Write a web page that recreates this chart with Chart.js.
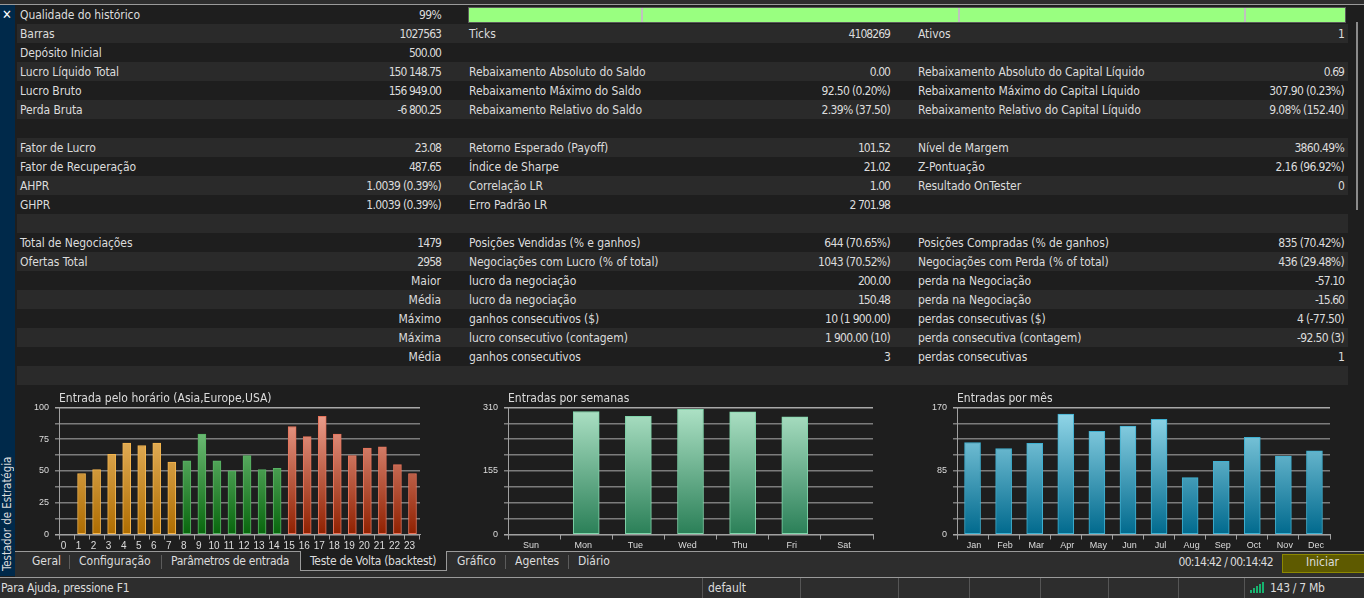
<!DOCTYPE html>
<html>
<head>
<meta charset="utf-8">
<script src="https://cdn.jsdelivr.net/npm/chart.js@4"></script>
<style>
html,body{margin:0;padding:0;width:1364px;height:598px;overflow:hidden;background:#1e1e1e;}
body{position:relative;font:12px "DejaVu Sans Condensed","DejaVu Sans",sans-serif;color:#dcdcdc;}
.abs{position:absolute;}
.t{position:absolute;white-space:nowrap;line-height:19px;height:19px;}
canvas{position:absolute;}
</style>
</head>
<body>
<div id="ui"></div>
<canvas id="hours" width="420" height="166" style="left:17px;top:385px;width:420px;height:166px"></canvas>
<canvas id="days" width="420" height="166" style="left:466px;top:385px;width:420px;height:166px"></canvas>
<canvas id="months" width="420" height="166" style="left:915px;top:385px;width:420px;height:166px"></canvas>
<script>
const hours = ['0','1','2','3','4','5','6','7','8','9','10','11','12','13','14','15','16','17','18','19','20','21','22','23'];
const hourEntries = [0,48,51,63,72,70,72,57,58,79,58,50,62,51,52,85,77,93,79,62,68,69,55,48];
const days = ['Sun','Mon','Tue','Wed','Thu','Fri','Sat'];
const dayEntries = [0,300,288,305,299,287,0];
const months = ['Jan','Feb','Mar','Apr','May','Jun','Jul','Aug','Sep','Oct','Nov','Dec'];
const monthEntries = [123,115,122,161,138,145,154,76,98,130,105,112];

const col1Labels = ['Qualidade do histórico','Barras','Depósito Inicial','Lucro Líquido Total','Lucro Bruto','Perda Bruta','','Fator de Lucro','Fator de Recuperação','AHPR','GHPR','','Total de Negociações','Ofertas Total','','','','',''];
const col1Values = ['99%','1027563','500.00','150 148.75','156 949.00','-6 800.25','','23.08','487.65','1.0039 (0.39%)','1.0039 (0.39%)','','1479','2958','Maior','Média','Máximo','Máxima','Média'];
const col2Labels = ['','Ticks','','Rebaixamento Absoluto do Saldo','Rebaixamento Máximo do Saldo','Rebaixamento Relativo do Saldo','','Retorno Esperado (Payoff)','Índice de Sharpe','Correlação LR','Erro Padrão LR','','Posições Vendidas (% e ganhos)','Negociações com Lucro (% of total)','lucro da negociação','lucro da negociação','ganhos consecutivos ($)','lucro consecutivo (contagem)','ganhos consecutivos'];
const col2Values = ['','4108269','','0.00','92.50 (0.20%)','2.39% (37.50)','','101.52','21.02','1.00','2 701.98','','644 (70.65%)','1043 (70.52%)','200.00','150.48','10 (1 900.00)','1 900.00 (10)','3'];
const col3Labels = ['','Ativos','','Rebaixamento Absoluto do Capital Líquido','Rebaixamento Máximo do Capital Líquido','Rebaixamento Relativo do Capital Líquido','','Nível de Margem','Z-Pontuação','Resultado OnTester','','','Posições Compradas (% de ganhos)','Negociações com Perda (% of total)','perda na Negociação','perda na Negociação','perdas consecutivas ($)','perda consecutiva (contagem)','perdas consecutivas'];
const col3Values = ['','1','','0.69','307.90 (0.23%)','9.08% (152.40)','','3860.49%','2.16 (96.92%)','0','','','835 (70.42%)','436 (29.48%)','-57.10','-15.60','4 (-77.50)','-92.50 (3)','1'];

const tabs = [['Geral',32],['Configuração',79],['Parâmetros de entrada',171],['Teste de Volta (backtest)',310],['Gráfico',457],['Agentes',515],['Diário',578]];
const tabDividers = [69,161,505,568];
const statusDividers = [702,800,898,969,1040,1108,1178,1244];

const ui = document.getElementById('ui');
function box(x,y,w,h,bg,extra){
  const d = document.createElement('div');
  d.className = 'abs';
  d.style.cssText = `left:${x}px;top:${y}px;width:${w}px;height:${h}px;background:${bg};${extra||''}`;
  ui.appendChild(d);
  return d;
}
function text(s,x,y,right,spacing){
  const d = document.createElement('div');
  d.className = 't';
  d.textContent = s;
  if(right) d.style.right = (1364-x)+'px'; else d.style.left = x+'px';
  d.style.top = y+'px';
  if(spacing) d.style.letterSpacing = spacing+'px';
  ui.appendChild(d);
  return d;
}
// the digits in the terminal font are narrower than in this one
function value(s,x,y){
  let sp = 0;
  if(/[0-9]/.test(s)) sp = /[(%]/.test(s) ? -0.66 : -0.95;
  text(s,x,y,true,sp);
}

// header, side strip
box(0,0,1364,4,'#2d2d2d');
box(0,4,1364,1,'#9a9a9a');
box(0,5,15,571,'#00294a');
// stat rows
for(let i=0;i<20;i++){
  box(17,5+19*i,1331,19,i%2 ? '#2a2a2a' : '#1e1e1e');
}
for(let i=0;i<19;i++){
  const y = 5.5+19*i;
  if(col1Labels[i]) text(col1Labels[i],20,y,false,-0.07);
  if(col1Values[i]) value(col1Values[i],441,y);
  if(col2Labels[i]) text(col2Labels[i],469,y,false,-0.07);
  if(col2Values[i]) value(col2Values[i],890,y);
  if(col3Labels[i]) text(col3Labels[i],918,y,false,-0.07);
  if(col3Values[i]) value(col3Values[i],1344,y);
}
// quality bar
box(468,7,876,14,'#99ff80','border:1px solid #5a5a5a;');
[641,958,1244].forEach(x=>box(x,8,2,14,'#c0c0c0'));
// scrollbar
box(1356,22,2,188,'#8a8a8a');
// close mark
const cl = text('✕',2,5);cl.style.fontSize='13px';cl.style.color='#fff';cl.style.fontWeight='bold';
// vertical caption
const vt = document.createElement('div');
vt.className='abs';
vt.textContent='Testador de Estratégia';
vt.style.cssText='left:0;top:456px;height:115px;width:15px;line-height:15px;font-size:11.5px;letter-spacing:-0.08px;writing-mode:vertical-rl;transform:rotate(180deg);white-space:nowrap;color:#dcdcdc;';
ui.appendChild(vt);

// tab bar
box(15,551,1349,26,'#2d2d2d');
box(15,551,1349,1,'#9a9a9a');
box(300,551,145,19,'#1e1e1e','border-left:1px solid #9a9a9a;border-right:1px solid #9a9a9a;border-bottom:1px solid #9a9a9a;');
tabDividers.forEach(x=>box(x,555,1,14,'#5c5c5c'));
tabs.forEach((t,i)=>text(t[0],t[1],551.5,false,(i===2||i===3)?-0.28:0));
text('00:14:42 / 00:14:42',1273,553,true,-0.68);
box(1282,554,81,17,'#5e5a00','border:1px solid #8c8800;');
text('Iniciar',1306,553);
// status bar
box(0,577,1364,1,'#9a9a9a');
box(0,578,1364,20,'#2d2d2d');
statusDividers.forEach(x=>box(x,578,1,20,'#555'));
text('Para Ajuda, pressione F1',1,578.5,false,-0.2);
text('default',708,578.5);
text('143 / 7 Mb',1270,578.5,false,-0.3);
[3,5,7,9,11].forEach((h,i)=>box(1250+i*3,593-h,2,h,'#17b26f'));

// charts
const tickFont = {family:'"Liberation Sans",sans-serif',size:9};
const titleFont = {family:'"DejaVu Sans Condensed","DejaVu Sans",sans-serif',size:12,weight:'normal'};
function barFill(top,bottom){
  return ctx => {
    const a = ctx.chart.chartArea;
    if(!a) return bottom;
    const g = ctx.chart.ctx.createLinearGradient(0,a.top,0,a.bottom);
    g.addColorStop(0,top);
    g.addColorStop(1,bottom);
    return g;
  };
}
function drawBars(id,title,labels,values,maxY,step,labelEvery,fill,edge,thick,labelOffset,axisFont,padRight){
  new Chart(document.getElementById(id).getContext('2d'),{
    type:'bar',
    data:{labels:labels,datasets:[{data:values,backgroundColor:fill,borderColor:edge,borderWidth:1,borderSkipped:false,barThickness:thick}]},
    options:{
      responsive:false,
      animation:false,
      layout:{padding:{right:padRight,bottom:0}},
      plugins:{
        legend:{display:false},
        tooltip:{enabled:false},
        title:{display:true,text:title,align:'start',fullSize:false,color:'#dcdcdc',font:titleFont,padding:{top:7,bottom:1}}
      },
      scales:{
        x:{
          offset:true,
          border:{color:'#a0a0a0'},
          grid:{drawOnChartArea:false,drawTicks:true,tickLength:5,tickColor:'#a0a0a0',offset:true},
          ticks:{color:'#dcdcdc',font:axisFont,maxRotation:0,autoSkip:false,padding:1,labelOffset:labelOffset},
          afterFit:s=>{s.height=16.5;}
        },
        y:{
          min:0,max:maxY,
          border:{color:'#a0a0a0'},
          grid:{lineWidth:1.5,color:c=>(c.index===0||c.tick.value===maxY)?'#a8a8a8':'#7c7c7c',tickColor:c=>(c.index===0||c.tick.value===maxY)?'#a8a8a8':'#7c7c7c',tickLength:4},
          ticks:{stepSize:step,autoSkip:false,color:'#dcdcdc',font:tickFont,padding:6,
            callback:(v,i)=>i%labelEvery===0?String(Math.round(v)):''},
          afterFit:s=>{s.width=42;}
        }
      }
    }
  });
}
const asiaFill = barFill('#f2c274','#ae6c00'), europeFill = barFill('#86d08f','#07650c'), usaFill = barFill('#f0a595','#8f2000');
drawBars('hours','Entrada pelo horário (Asia,Europe,USA)',hours,hourEntries,100,12.5,2,
  ctx=>(ctx.dataIndex<8?asiaFill:ctx.dataIndex<15?europeFill:usaFill)(ctx),
  ctx=>ctx.dataIndex<8?'#f4b54e':ctx.dataIndex<15?'#58b264':'#e8735a',8,-3,{family:'"Liberation Sans",sans-serif',size:10},17);
drawBars('days','Entradas por semanas',days,dayEntries,310,38.75,4,barFill('#aee2c6','#2a7f57'),'#80d6ab',26,-3,tickFont,13);
drawBars('months','Entradas por mês',months,monthEntries,170,21.25,4,barFill('#98dbec','#00698d'),'#3eb1d2',16,1.5,tickFont,5);
</script>
</body>
</html>
